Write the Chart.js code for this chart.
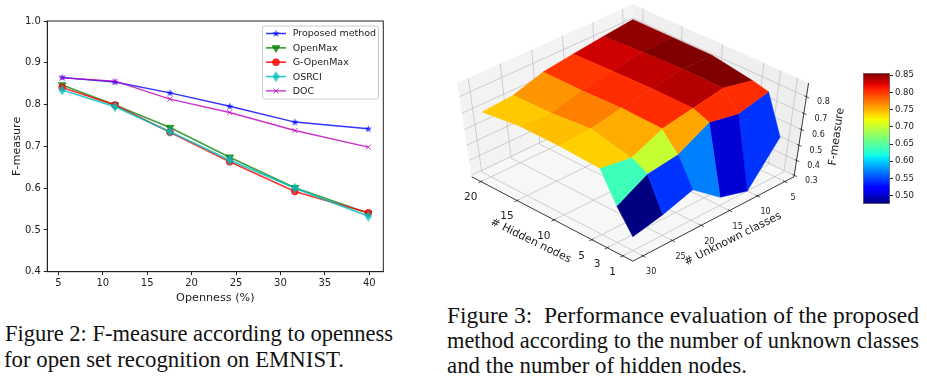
<!DOCTYPE html>
<html>
<head>
<meta charset="utf-8">
<title>Figures 2 and 3</title>
<script src="https://cdn.jsdelivr.net/npm/chart.js@4"></script>
<style>
html, body { margin: 0; padding: 0; background: #fff; overflow: hidden; }
body { width: 927px; height: 379px; position: relative; }
.box { position: absolute; filter: blur(0.45px); }
.box canvas { display: block; }
.cap {
  position: absolute; font-family: "Liberation Serif", serif; font-size: 24px; line-height: 25px;
  color: #111; white-space: nowrap; transform-origin: left center;
}
</style>
</head>
<body>
<div class="box" style="left:0;top:0;width:400px;height:305px"><canvas id="lineChart" width="400" height="305"></canvas></div>
<div class="box" style="left:440px;top:0;width:420px;height:290px"><canvas id="surfaceChart" width="420" height="290"></canvas></div>
<div class="box" style="left:850px;top:60px;width:77px;height:160px"><canvas id="barChart" width="77" height="160"></canvas></div>
<div class="cap" data-w="388" style="left:5px;top:321px">Figure 2: F-measure according to openness</div>
<div class="cap" data-w="340" style="left:4px;top:347px">for open set recognition on EMNIST.</div>
<div class="cap" data-w="472" style="left:447px;top:303px">Figure 3:&nbsp; Performance evaluation of the proposed</div>
<div class="cap" data-w="472" style="left:447px;top:328px">method according to the number of unknown classes</div>
<div class="cap" data-w="300" style="left:447px;top:353px">and the number of hidden nodes.</div>
<script>
// figure 2 data
var openness = [5.43, 11.38, 17.57, 24.29, 31.63, 39.89];
var proposed = [0.865, 0.854, 0.828, 0.796, 0.758, 0.742];
var openMax = [0.847, 0.799, 0.745, 0.674, 0.601, 0.540];
var gOpenMax = [0.841, 0.799, 0.734, 0.663, 0.592, 0.541];
var osrci = [0.835, 0.795, 0.735, 0.667, 0.600, 0.533];
var doc = [0.864, 0.856, 0.813, 0.781, 0.738, 0.698];
var opennessTicks = [5, 10, 15, 20, 25, 30, 35, 40];
var fTicks = [0.4, 0.5, 0.6, 0.7, 0.8, 0.9, 1.0];

// figure 3 data, rows are hidden nodes, columns unknown classes
var hiddenNodes = [1, 3, 5, 10, 15, 20];
var unknownClasses = [5, 10, 15, 20, 25, 30];
var surfaceF = [
  [0.552, 0.290, 0.347, 0.497, 0.432, 0.387],
  [0.784, 0.740, 0.777, 0.673, 0.646, 0.538],
  [0.806, 0.846, 0.814, 0.781, 0.697, 0.727],
  [0.845, 0.847, 0.816, 0.787, 0.752, 0.738],
  [0.845, 0.838, 0.810, 0.778, 0.729, 0.739],
  [0.844, 0.824, 0.802, 0.778, 0.723, 0.708]
];
// colour value of each cell of the surface
var cellF = [
  [0.5425, 0.504, 0.571, 0.5425, 0.476],
  [0.804, 0.804, 0.755, 0.700, 0.637],
  [0.856, 0.8385, 0.804, 0.753, 0.738],
  [0.856, 0.835, 0.804, 0.7705, 0.745],
  [0.850, 0.830, 0.800, 0.762, 0.741]
];
var zTicks = [0.3, 0.4, 0.5, 0.6, 0.7, 0.8];
var barTicks = [0.50, 0.55, 0.60, 0.65, 0.70, 0.75, 0.80, 0.85];
var barMin = 0.476;
var barMax = 0.856;

var tickFont = '"DejaVu Sans"';
Chart.defaults.font.family = tickFont;
Chart.defaults.color = '#222';
Chart.defaults.animation = false;

// squeeze the captions to the width they have in the paper
document.querySelectorAll('.cap').forEach(function(el) {
  el.style.transform = 'scaleX(' + (el.dataset.w / el.getBoundingClientRect().width) + ')';
});

function markerCanvas(w, h, color, draw) {
  var c = document.createElement('canvas');
  c.width = w;
  c.height = h;
  var g = c.getContext('2d');
  g.fillStyle = color;
  g.beginPath();
  draw(g);
  g.closePath();
  g.fill();
  return c;
}

function starMarker(color) {
  return markerCanvas(9, 9, color, function(g) {
    for (var i = 0; i < 10; i++) {
      var r = i % 2 ? 1.6 : 4;
      var a = -Math.PI / 2 + i * Math.PI / 5;
      g.lineTo(4.5 + r * Math.cos(a), 4.7 + r * Math.sin(a));
    }
  });
}

function thinDiamond(color) {
  return markerCanvas(7, 11, color, function(g) {
    g.moveTo(3.5, 0);
    g.lineTo(7, 5.5);
    g.lineTo(3.5, 11);
    g.lineTo(0, 5.5);
  });
}

var blue = 'rgba(0,0,255,0.8)';
var green = 'rgba(0,128,0,0.75)';
var red = 'rgba(255,0,0,0.8)';
var cyan = 'rgba(0,191,191,0.8)';
var magenta = 'rgba(191,0,191,0.8)';

function series(name, values, color, marker, radius, rotation, width, order) {
  return {
    label: name,
    data: values.map(function(v, i) { return { x: openness[i], y: v }; }),
    showLine: true,
    order: order,
    borderColor: color,
    backgroundColor: color,
    borderWidth: width,
    pointStyle: marker,
    pointRadius: radius,
    pointRotation: rotation,
    pointBorderColor: color,
    pointBackgroundColor: color,
    pointBorderWidth: 1,
    tension: 0
  };
}

// legend with line and marker together, like matplotlib has it
var legendBox = {
  id: 'legendBox',
  afterDatasetsDraw: function(chart) {
    var ctx = chart.ctx;
    ctx.save();
    ctx.fillStyle = 'rgba(255,255,255,0.85)';
    ctx.strokeStyle = '#ccc';
    ctx.lineWidth = 1;
    ctx.beginPath();
    ctx.roundRect(262.5, 26, 116, 73, 2);
    ctx.fill();
    ctx.stroke();
    ctx.textBaseline = 'middle';
    ctx.font = '9.5px ' + tickFont;
    chart.data.datasets.forEach(function(d, i) {
      var y = 33.5 + i * 14.35;
      ctx.strokeStyle = d.borderColor;
      ctx.fillStyle = d.borderColor;
      ctx.lineWidth = d.borderWidth;
      ctx.beginPath();
      ctx.moveTo(266, y);
      ctx.lineTo(286, y);
      ctx.stroke();
      ctx.lineWidth = 1;
      Chart.helpers.drawPoint(ctx, {
        pointStyle: d.pointStyle, rotation: d.pointRotation, radius: d.pointRadius, borderWidth: 1
      }, 276, y);
      ctx.fillStyle = '#222';
      ctx.fillText(d.label, 292.7, y + 0.5);
    });
    ctx.restore();
  }
};

var frame = {
  id: 'frame',
  afterDraw: function(chart) {
    var a = chart.chartArea;
    chart.ctx.save();
    chart.ctx.strokeStyle = '#222';
    chart.ctx.lineWidth = 1;
    chart.ctx.strokeRect(a.left, a.top, a.right - a.left, a.bottom - a.top);
    chart.ctx.restore();
  }
};

new Chart(document.getElementById('lineChart'), {
  type: 'scatter',
  data: {
    datasets: [
      series('Proposed method', proposed, blue, starMarker(blue), 4.5, 0, 1.5, 5),
      series('OpenMax', openMax, green, 'triangle', 4.4, 180, 1.7, 4),
      series('G-OpenMax', gOpenMax, red, 'circle', 3.4, 0, 1.7, 3),
      series('OSRCI', osrci, cyan, thinDiamond(cyan), 5, 0, 1.7, 2),
      series('DOC', doc, magenta, 'crossRot', 3.6, 0, 1.4, 1)
    ]
  },
  options: {
    responsive: false,
    layout: { padding: { left: 0, top: 21, right: 16.7, bottom: 0 } },
    plugins: { legend: { display: false }, tooltip: { enabled: false } },
    scales: {
      x: {
        type: 'linear', min: 3.76, max: 41.58,
        afterFit: function(s) { s.height = 33.3; },
        afterBuildTicks: function(s) { s.ticks = opennessTicks.map(function(v) { return { value: v }; }); },
        grid: { drawOnChartArea: false, color: '#222', tickLength: 3.5 },
        border: { color: '#222' },
        ticks: { font: { size: 10 }, padding: 2, maxRotation: 0 },
        title: { display: true, text: 'Openness (%)', font: { size: 11.2 }, padding: { top: 2, bottom: 0 } }
      },
      y: {
        min: 0.4, max: 1.0,
        afterFit: function(s) { s.width = 47.3; },
        afterBuildTicks: function(s) { s.ticks = fTicks.map(function(v) { return { value: v }; }); },
        grid: { drawOnChartArea: false, color: '#222', tickLength: 3.5 },
        border: { color: '#222' },
        ticks: { font: { size: 10 }, padding: 3, callback: function(v) { return v.toFixed(1); } },
        title: { display: true, text: 'F-measure', font: { size: 11.2 }, padding: { top: 10.5, bottom: 0 } }
      }
    }
  },
  plugins: [legendBox, frame]
});

// jet colormap, same break points as matplotlib
var jetR = [[0, 0], [0.35, 0], [0.66, 1], [0.89, 1], [1, 0.5]];
var jetG = [[0, 0], [0.125, 0], [0.375, 1], [0.64, 1], [0.91, 0], [1, 0]];
var jetB = [[0, 0.5], [0.11, 1], [0.34, 1], [0.65, 0], [1, 0]];

function channel(stops, t) {
  for (var i = 1; i < stops.length; i++) {
    if (t <= stops[i][0]) {
      var f = (t - stops[i - 1][0]) / (stops[i][0] - stops[i - 1][0]);
      return stops[i - 1][1] + f * (stops[i][1] - stops[i - 1][1]);
    }
  }
  return stops[stops.length - 1][1];
}

function jet(v) {
  var t = Math.min(1, Math.max(0, (v - barMin) / (barMax - barMin)));
  return 'rgb(' + Math.round(255 * channel(jetR, t)) + ',' + Math.round(255 * channel(jetG, t)) + ',' + Math.round(255 * channel(jetB, t)) + ')';
}

// small perspective camera for the 3d box, a and b and c run 0..1 along the box
var elev = 51 * Math.PI / 180;
var camDist = 9;
var camS = Math.sin(elev);
var camC = Math.cos(elev);
var margin = 0.06;
var zLow = 0.29;
var zHigh = 0.88;

function project(a, b, c) {
  var x = a - 0.5, y = b - 0.5, z = c - 0.5;
  var right = (y - x) * Math.SQRT1_2;
  var near = -(x + y) * Math.SQRT1_2;
  var up = z * camC - near * camS;
  var toward = near * camC + z * camS;
  var s = 1 / (camDist - toward);
  return { x: 192.85 + 2140 * right * s, y: 131.9 - 1338 * up * s };
}

function hiddenPos(h) { return margin + (1 - 2 * margin) * (h - 1) / 19; }
function unknownPos(u) { return margin + (1 - 2 * margin) * (30 - u) / 25; }
function zPos(f) { return (f - zLow) / (zHigh - zLow); }

function depth(a, b, c) {
  var x = a - 0.5, y = b - 0.5, z = c - 0.5;
  return -(x + y) * Math.SQRT1_2 * camC + z * camS;
}

function line3d(pts, color, width) {
  return {
    data: pts.map(function(p) { return project(p[0], p[1], p[2]); }),
    showLine: true, fill: false, borderColor: color, borderWidth: width, pointRadius: 0, tension: 0
  };
}

function poly3d(pts, color, edge) {
  var data = pts.map(function(p) { return project(p[0], p[1], p[2]); });
  data.push(data[0]);
  return {
    data: data, showLine: true, fill: 'shape', backgroundColor: color,
    borderColor: edge || color, borderWidth: edge ? 0.5 : 0, pointRadius: 0, tension: 0
  };
}

var layers = [];
layers.push(poly3d([[0, 0, 0], [1, 0, 0], [1, 1, 0], [0, 1, 0]], '#f7f7f7'));
layers.push(poly3d([[1, 0, 0], [1, 1, 0], [1, 1, 1], [1, 0, 1]], '#f3f3f3'));
layers.push(poly3d([[1, 1, 0], [0, 1, 0], [0, 1, 1], [1, 1, 1]], '#efefef'));

var gridColor = '#c4c4c4';
hiddenNodes.forEach(function(h) {
  var a = hiddenPos(h);
  layers.push(line3d([[a, 0, 0], [a, 1, 0], [a, 1, 1]], gridColor, 0.8));
  layers.push(line3d([[a, -0.015, 0], [a, 0.01, 0]], '#222', 0.8));
});
unknownClasses.forEach(function(u) {
  var b = unknownPos(u);
  layers.push(line3d([[0, b, 0], [1, b, 0], [1, b, 1]], gridColor, 0.8));
  layers.push(line3d([[-0.015, b, 0], [0.01, b, 0]], '#222', 0.8));
});
zTicks.forEach(function(f) {
  var c = zPos(f);
  layers.push(line3d([[0, 1, c], [1, 1, c], [1, 0, c]], gridColor, 0.8));
  layers.push(line3d([[-0.015, 1, c], [0.01, 1, c]], '#222', 0.8));
});
layers.push(line3d([[1, 0, 0], [0, 0, 0], [0, 1, 0], [0, 1, 1]], '#222', 0.9));

// surface cells, far ones first
var cells = [];
cellF.forEach(function(row, i) {
  row.forEach(function(v, j) {
    var a0 = hiddenPos(hiddenNodes[i]), a1 = hiddenPos(hiddenNodes[i + 1]);
    var b0 = unknownPos(unknownClasses[j]), b1 = unknownPos(unknownClasses[j + 1]);
    var pts = [
      [a0, b0, zPos(surfaceF[i][j])],
      [a1, b0, zPos(surfaceF[i + 1][j])],
      [a1, b1, zPos(surfaceF[i + 1][j + 1])],
      [a0, b1, zPos(surfaceF[i][j + 1])]
    ];
    var d = 0;
    pts.forEach(function(p) { d += depth(p[0], p[1], p[2]); });
    cells.push({ pts: pts, d: d, color: jet(v) });
  });
});
cells.sort(function(p, q) { return p.d - q.d; });
cells.forEach(function(c) { layers.push(poly3d(c.pts, c.color, c.color)); });

// first dataset is painted last in chart.js
layers.reverse();

var surfaceLabels = {
  id: 'surfaceLabels',
  afterDraw: function(chart) {
    var ctx = chart.ctx;
    var sx = chart.scales.x, sy = chart.scales.y;
    function put(text, p, dx, dy, font, angle) {
      ctx.save();
      ctx.translate(sx.getPixelForValue(p.x) + dx, sy.getPixelForValue(p.y) + dy);
      if (angle) ctx.rotate(angle * Math.PI / 180);
      ctx.font = font;
      ctx.fillText(text, 0, 0);
      ctx.restore();
    }
    ctx.save();
    ctx.fillStyle = '#222';
    ctx.textAlign = 'center';
    ctx.textBaseline = 'middle';
    hiddenNodes.forEach(function(h) {
      put(String(h), project(hiddenPos(h), -0.06, 0), 0, 11, '10.5px ' + tickFont);
    });
    unknownClasses.forEach(function(u) {
      put(String(u), project(-0.06, unknownPos(u), 0), -2, 11, '8px ' + tickFont);
    });
    zTicks.forEach(function(f) {
      put(f.toFixed(1), project(0, 1, zPos(f)), 17, 5.5, '8px ' + tickFont);
    });
    put('# Hidden nodes', { x: 90.7, y: 240.7 }, 0, 0, '11px ' + tickFont, 26);
    put('# Unknown classes', { x: 293, y: 239 }, 0, 0, '11px ' + tickFont, -26.5);
    put('F-measure', { x: 396.7, y: 136.7 }, 0, 0, '11px ' + tickFont, -82);
    ctx.restore();
  }
};

new Chart(document.getElementById('surfaceChart'), {
  type: 'scatter',
  data: { datasets: layers },
  options: {
    responsive: false,
    layout: { padding: 0 },
    plugins: { legend: { display: false }, tooltip: { enabled: false } },
    scales: {
      x: { type: 'linear', display: false, min: 0, max: 420 },
      y: { type: 'linear', display: false, min: 0, max: 290, reverse: true }
    }
  },
  plugins: [surfaceLabels]
});

// colour bar, one floating bar painted with the same colormap
function barFill(context) {
  var a = context.chart.chartArea;
  if (!a) return '#000';
  var g = context.chart.ctx.createLinearGradient(0, a.bottom, 0, a.top);
  for (var i = 0; i <= 40; i++) {
    g.addColorStop(i / 40, jet(barMin + (barMax - barMin) * i / 40));
  }
  return g;
}

new Chart(document.getElementById('barChart'), {
  type: 'bar',
  data: {
    labels: ['F-measure'],
    datasets: [{
      data: [[barMin, barMax]], backgroundColor: barFill, barPercentage: 1, categoryPercentage: 1,
      borderSkipped: false, borderColor: '#777', borderWidth: 1
    }]
  },
  options: {
    responsive: false,
    layout: { padding: { left: 13, top: 13, right: 0, bottom: 16 } },
    plugins: { legend: { display: false }, tooltip: { enabled: false } },
    scales: {
      x: { display: false },
      y: {
        position: 'right', min: barMin, max: barMax,
        afterFit: function(s) { s.width = 37; },
        afterBuildTicks: function(s) { s.ticks = barTicks.map(function(v) { return { value: v }; }); },
        grid: { drawOnChartArea: false, color: '#222', tickLength: 3 },
        border: { display: false },
        ticks: { font: { size: 8.5 }, padding: 2, callback: function(v) { return v.toFixed(2); } }
      }
    }
  }
});
</script>
</body>
</html>
